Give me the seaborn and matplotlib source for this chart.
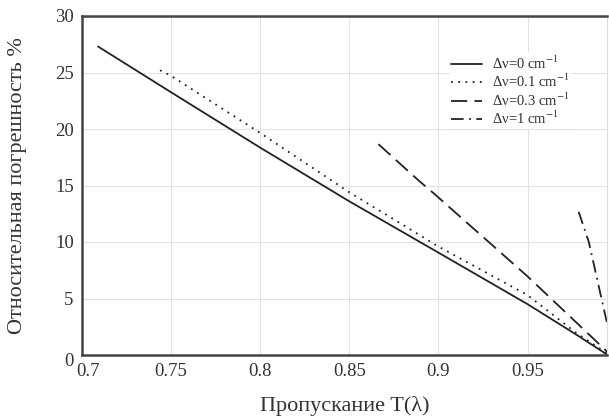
import numpy as np
import pandas as pd
import matplotlib
matplotlib.use("Agg")
import matplotlib.pyplot as plt
import matplotlib.transforms as mtransforms
import seaborn as sns

t_0 = [0.709, 0.75, 0.80, 0.85, 0.90, 0.95, 0.977, 0.995]
e_0 = [27.3, 23.25, 18.35, 13.6, 9.06, 4.5, 1.84, 0.0]

t_01 = [0.7438, 0.75, 0.80, 0.85, 0.90, 0.95, 0.977, 0.995]
e_01 = [25.2, 24.7, 19.65, 14.4, 9.6, 5.3, 2.0, 0.1]

t_03 = [0.8663, 0.8892, 0.8977, 0.95, 0.9826, 0.996]
e_03 = [18.66, 15.4, 14.26, 6.96, 2.1, 0.1]

t_1 = [0.9787, 0.9844, 0.9915, 0.9945, 0.9985]
e_1 = [12.67, 10.0, 5.0, 2.9, 0.0]

labels = [r"Δν=0 cm$^{-1}$", r"Δν=0.1 cm$^{-1}$", r"Δν=0.3 cm$^{-1}$", r"Δν=1 cm$^{-1}$"]
x_ticks = [0.7, 0.75, 0.8, 0.85, 0.9, 0.95]
x_tick_labels = ["0.7", "0.75", "0.8", "0.85", "0.9", "0.95"]
y_ticks = [0, 5, 10, 15, 20, 25, 30]

sns.set_theme(style="whitegrid")
plt.rcParams['font.family'] = ['Liberation Serif', 'DejaVu Serif']
plt.rcParams['mathtext.fontset'] = 'stix'

fig = plt.figure(figsize=(6.09, 4.17), dpi=100)
ax = fig.add_axes([82 / 609, 1 - 355 / 417, (607 - 82) / 609, (355 - 16) / 417])

styles = ["-", (0, (1, 3)), (0, (9, 4)), (0, (7, 3, 1, 3))]
series = [(t_0, e_0), (t_01, e_01), (t_03, e_03), (t_1, e_1)]
for (t, e), ls, lab in zip(series, styles, labels):
    sns.lineplot(x=t, y=e, ax=ax, color="#222222", linewidth=1.3,
                 linestyle=ls, label=lab)

ax.set_xlim(0.7, 0.9946)
ax.set_ylim(0, 30)
ax.set_xticks(x_ticks)
ax.set_xticklabels(x_tick_labels)
ax.set_yticks(y_ticks)
ax.tick_params(axis="both", labelsize=13.5, length=0, pad=6, colors="#333333")
ax.grid(True, color="#e2e2e2", linewidth=0.8)

# "0" по оси y чуть ниже, "0.7" чуть правее, как в оригинале
ax.get_yticklabels()[0].set_transform(
    ax.get_yticklabels()[0].get_transform()
    + mtransforms.ScaledTranslation(0, -5 / 100, fig.dpi_scale_trans))
ax.get_xticklabels()[0].set_transform(
    ax.get_xticklabels()[0].get_transform()
    + mtransforms.ScaledTranslation(6 / 100, 0, fig.dpi_scale_trans))

for side in ["left", "bottom", "top"]:
    ax.spines[side].set_color("#444444")
    ax.spines[side].set_linewidth(1.8)
ax.spines["right"].set_color("#dddddd")
ax.spines["right"].set_linewidth(0.8)

ax.set_xlabel("Пропускание T(λ)", fontsize=16, color="#333333", labelpad=11.5)
ax.set_ylabel("Относительная погрешность %", fontsize=16, color="#333333", labelpad=20)

leg = ax.legend(loc="upper left", bbox_to_anchor=(450 / 609, 1 - 53 / 417),
                bbox_transform=fig.transFigure, fontsize=10.5, frameon=True,
                facecolor="white", edgecolor="none", framealpha=1, fancybox=False,
                borderpad=0.1, borderaxespad=0, handlelength=2.1,
                handletextpad=0.7, labelspacing=0.08)
for txt in leg.get_texts():
    txt.set_color("#333333")

fig.savefig("out.png", dpi=100)
